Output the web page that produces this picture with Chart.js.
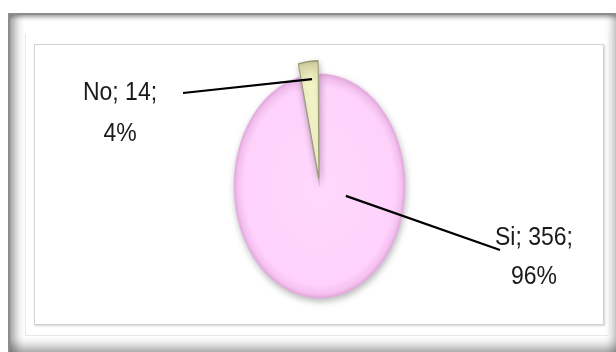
<!DOCTYPE html>
<html>
<head>
<meta charset="utf-8">
<script src="https://cdn.jsdelivr.net/npm/chart.js@4/dist/chart.umd.min.js"></script>
<style>
  html, body { margin: 0; padding: 0; background: #ffffff; }
  #stage { position: relative; width: 616px; height: 352px; overflow: hidden; }
  .frame {
    position: absolute; left: 8px; top: 13px; width: 612px; height: 342px;
    border: 2px solid #8c8c8c; box-sizing: border-box;
    box-shadow:
      inset 9px 0 9px -3px rgba(0,0,0,0.33),
      inset 0 4px 4px -2px rgba(0,0,0,0.30),
      inset 0 -12px 10px -4px rgba(0,0,0,0.28),
      inset -9px 0 8px -4px rgba(0,0,0,0.28);
  }
  .bevel {
    position: absolute; left: 25px; top: 34px; width: 585px; height: 302px;
    border: 1px solid #e8e8e8; border-top: none; box-sizing: border-box;
  }
  .plot {
    position: absolute; left: 34px; top: 44px; width: 570px; height: 281px;
    border: 1px solid #d2d2d2; box-sizing: border-box;
    box-shadow: 1px 1px 2px rgba(0,0,0,0.18);
  }
  #chart { position: absolute; left: 0; top: 0; }
</style>
</head>
<body>
<div id="stage">
  <div class="frame"></div>
  <div class="bevel"></div>
  <div class="plot"></div>
  <canvas id="chart" width="616" height="352"></canvas>
</div>
<script>
// Survey answers
const categories = ['Si', 'No'];
const counts = [356, 14];

// Look of each slice
const sliceStops = [
  [[0, '#ffd8fd'], [0.88, '#fed2fb'], [0.96, '#f6c2f1'], [1, '#e6abe0']],
  [[0, '#f7f7cf'], [0.80, '#f3f3c6'], [0.95, '#dcdcaa'], [1, '#b9b98c']]
];
const sliceBorders = ['rgba(230,170,225,0.5)', 'rgba(140,140,100,0.85)'];
const sliceOffsets = [0, 23];

const PIE_RADIUS = 85.5;      // horizontal radius in px
const PIE_STRETCH = 1.31;     // vertical / horizontal ratio of the pie
const TEXT_STRETCH = 1.16;    // tall, narrow label lettering

// Label placement: text centre, leader anchor (angle clockwise from top, fraction of radius)
const labelLayout = [
  { cx: 534, y1: 245, y2: 284, lineEnd: [500, 250], anchorDeg: 106, anchorFrac: 0.32 },
  { cx: 120, y1: 100, y2: 141, lineEnd: [183, 93], anchorDeg: -5, anchorFrac: 0.84 }
];

const total = counts.reduce((a, b) => a + b, 0);

function sliceFill(c) {
  const stops = sliceStops[c.dataIndex];
  const a = c.chart.chartArea;
  if (!a) return stops[0][1];
  const cx = (a.left + a.right) / 2, cy = (a.top + a.bottom) / 2;
  const g = c.chart.ctx.createRadialGradient(cx, cy, 0, cx, cy, PIE_RADIUS + (sliceOffsets[c.dataIndex] ? 6 : 0));
  stops.forEach(s => g.addColorStop(s[0], s[1]));
  return g;
}

// Draws the round pie as an upright ellipse
const ellipsePie = {
  id: 'ellipsePie',
  beforeDatasetsDraw(chart) {
    const a = chart.chartArea, ctx = chart.ctx;
    const cx = (a.left + a.right) / 2, cy = (a.top + a.bottom) / 2;
    ctx.save();
    ctx.translate(cx, cy);
    ctx.scale(1, PIE_STRETCH);
    ctx.translate(-cx, -cy);
    ctx.shadowColor = 'rgba(0,0,0,0.28)';
    ctx.shadowBlur = 7;
    ctx.shadowOffsetX = 1;
    ctx.shadowOffsetY = 3;
  },
  afterDatasetsDraw(chart) {
    chart.ctx.restore();
  }
};

function tallText(ctx, text, x, y) {
  ctx.save();
  ctx.translate(x, y);
  ctx.scale(1, TEXT_STRETCH);
  ctx.fillText(text, 0, 0);
  ctx.restore();
}

// Category; value; percent labels with leader lines
const pieLabels = {
  id: 'pieLabels',
  afterDraw(chart) {
    const ctx = chart.ctx;
    const meta = chart.getDatasetMeta(0);
    meta.data.forEach((arc, i) => {
      const p = arc.getProps(['x', 'y', 'startAngle', 'endAngle', 'outerRadius'], true);
      const lay = labelLayout[i];
      const mid = (p.startAngle + p.endAngle) / 2;
      const off = (sliceOffsets[i] / 4) * (1 + (1 - Math.sin(Math.min(Math.PI, p.endAngle - p.startAngle))));
      const ang = (lay.anchorDeg - 90) * Math.PI / 180;
      const r = p.outerRadius * lay.anchorFrac;
      const ax = p.x + Math.cos(mid) * off + Math.cos(ang) * r;
      const ay = p.y + (Math.sin(mid) * off + Math.sin(ang) * r) * PIE_STRETCH;

      ctx.save();
      ctx.strokeStyle = '#000000';
      ctx.lineWidth = 2.2;
      ctx.beginPath();
      ctx.moveTo(lay.lineEnd[0], lay.lineEnd[1]);
      ctx.lineTo(ax, ay);
      ctx.stroke();

      const pct = Math.round(counts[i] / total * 100);
      ctx.fillStyle = '#1a1a1a';
      ctx.font = '23px "Liberation Sans", Arial, sans-serif';
      ctx.textAlign = 'center';
      ctx.textBaseline = 'alphabetic';
      tallText(ctx, categories[i] + '; ' + counts[i] + ';', lay.cx, lay.y1);
      tallText(ctx, pct + '%', lay.cx, lay.y2);
      ctx.restore();
    });
  }
};

new Chart(document.getElementById('chart'), {
  type: 'pie',
  data: {
    labels: categories,
    datasets: [{
      data: counts,
      backgroundColor: sliceFill,
      borderColor: sliceBorders,
      borderWidth: 1,
      offset: sliceOffsets,
      clip: false
    }]
  },
  options: {
    responsive: false,
    animation: false,
    radius: PIE_RADIUS,
    layout: { padding: { left: 23, right: 0, top: 20, bottom: 0 } },
    plugins: {
      legend: { display: false },
      tooltip: { enabled: false }
    }
  },
  plugins: [ellipsePie, pieLabels]
});
</script>
</body>
</html>
